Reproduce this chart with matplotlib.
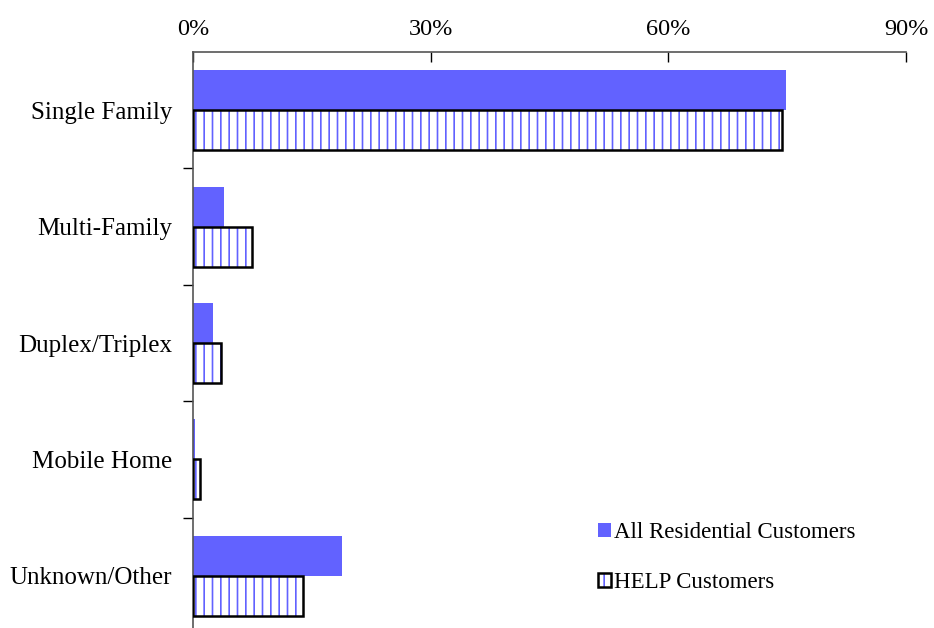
import numpy as np
import matplotlib.pyplot as plt
from matplotlib.patches import Patch
from matplotlib.legend_handler import HandlerTuple

categories = ['Single Family', 'Multi-Family', 'Duplex/Triplex', 'Mobile Home', 'Unknown/Other']
all_residential = [74.9, 3.9, 2.5, 0.3, 18.8]
help_customers = [74.4, 7.4, 3.5, 0.9, 13.9]
x_ticks = [0, 30, 60, 90]

BLUE = '#6262ff'
plt.rcParams['font.family'] = ['Liberation Serif', 'DejaVu Serif']
plt.rcParams['hatch.linewidth'] = 1.2

fig = plt.figure(figsize=(9.34, 6.28), dpi=100)
# axes in pixels: left 193, right 906, top 52, bottom 634 (clipped by figure)
ax = fig.add_axes([193 / 934, 1 - 634 / 628, (906 - 193) / 934, (634 - 52) / 628])

y = np.arange(len(categories))
h = 0.343
ax.barh(y - h / 2, all_residential, height=h, color=BLUE, edgecolor='none', zorder=2)
ax.barh(y + h / 2, help_customers, height=h, color='white', edgecolor=BLUE,
        hatch='||', linewidth=0, zorder=2)
ax.barh(y + h / 2, help_customers, height=h, fill=False, edgecolor='black',
        linewidth=1.8, zorder=3)

ax.set_ylim(len(categories) - 0.5, -0.5)
ax.set_xlim(0, 90)
ax.set_xticks(x_ticks)
ax.set_xticklabels([f'{t}%' for t in x_ticks], fontsize=17.5)
ax.xaxis.tick_top()
ax.tick_params(axis='x', direction='in', length=7, width=1, pad=9)

ax.set_yticks(y)
ax.set_yticklabels(categories, fontsize=18)
ax.set_yticks(np.arange(len(categories) - 1) + 0.5, minor=True)
ax.tick_params(axis='y', which='major', length=0, pad=15)
ax.tick_params(axis='y', which='minor', direction='out', length=7, width=1)

for s in ['right', 'bottom']:
    ax.spines[s].set_visible(False)
for s in ['top', 'left']:
    ax.spines[s].set_color('#555555')
    ax.spines[s].set_linewidth(1.2)

h_all = Patch(facecolor=BLUE, edgecolor='none')
h_help_fill = Patch(facecolor='white', edgecolor=BLUE, hatch='||', linewidth=0)
h_help_edge = Patch(fill=False, edgecolor='black', linewidth=1.8)
ax.legend([h_all, (h_help_fill, h_help_edge)],
          ['All Residential Customers', 'HELP Customers'],
          handler_map={tuple: HandlerTuple(ndivide=1, pad=0)},
          loc='upper left', bbox_to_anchor=((587 - 193) / (906 - 193), 1 - (511 - 52) / (634 - 52)),
          frameon=False, fontsize=16.5, handlelength=0.55, handleheight=0.55,
          handletextpad=0.15, labelspacing=1.25, borderpad=0)

fig.savefig('out.png', dpi=100)
